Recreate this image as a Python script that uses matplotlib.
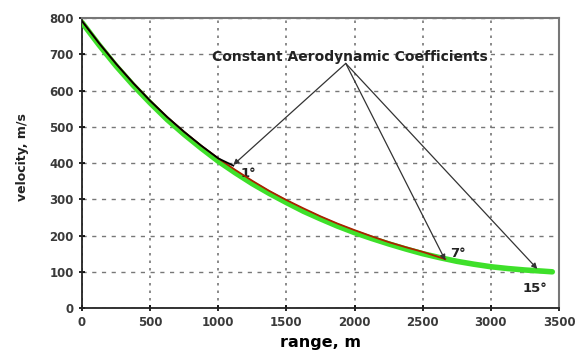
import numpy as np
import matplotlib.pyplot as plt

# velocity vs range (one series per angle of attack)
range_1 = [0, 125, 250, 375, 500, 625, 750, 875, 1000, 1110]
vel_1 = [792, 731, 674, 621, 572, 527, 486, 448, 413, 393]

range_7 = [0, 125, 250, 375, 500, 625, 750, 875, 1000, 1125, 1250, 1375, 1500,
           1625, 1750, 1875, 2000, 2125, 2250, 2375, 2500, 2665]
vel_7 = [792, 731, 674, 621, 572, 527, 486, 448, 413, 381, 351, 323, 298,
         275, 253, 233, 215, 198, 182, 168, 155, 135]

range_15 = [0, 125, 250, 375, 500, 625, 750, 875, 1000, 1125, 1250, 1375, 1500,
            1625, 1750, 1875, 2000, 2125, 2250, 2375, 2500, 2625, 2750, 2875,
            3000, 3125, 3250, 3375, 3450]
vel_15 = [788, 726, 668, 615, 566, 520, 479, 441, 405, 373, 343, 316, 291,
          267, 246, 226, 208, 192, 177, 163, 150, 139, 129, 121,
          114, 109, 105, 102, 100]

x_ticks = [0, 500, 1000, 1500, 2000, 2500, 3000, 3500]
y_ticks = [0, 100, 200, 300, 400, 500, 600, 700, 800]

plt.rcParams['font.family'] = ['DejaVu Sans']
plt.rcParams['font.weight'] = 'bold'

fig = plt.figure(figsize=(5.83, 3.62), dpi=100)
ax = fig.add_axes([0.1406, 0.149, 0.8184, 0.801])

ax.plot(range_15, vel_15, color="#3ee02a", lw=4, solid_capstyle="round", zorder=3)
ax.plot(range_7, vel_7, color="#aa2200", lw=1.3, zorder=4)
ax.plot(range_1, vel_1, color="black", lw=1.3, zorder=5)

ax.set_xlim(0, 3500)
ax.set_ylim(0, 800)
ax.set_xticks(x_ticks)
ax.set_yticks(y_ticks)
ax.grid(True, axis="y", color="#777777", ls=(0, (3, 4)), lw=1.0)
ax.grid(True, axis="x", color="#777777", ls=(0, (1.5, 3)), lw=1.2)
ax.tick_params(labelsize=8.5, labelcolor="#3a3a3a", direction="inout", length=5, width=1.2)

for side in ["top", "right"]:
    ax.spines[side].set_color("#777777")
    ax.spines[side].set_linewidth(1.5)
for side in ["left", "bottom"]:
    ax.spines[side].set_color("#222222")
    ax.spines[side].set_linewidth(1.3)

ax.set_xlabel("range, m", fontsize=11.5, fontweight="bold", labelpad=4)
ax.set_ylabel("velocity, m/s", fontsize=9, fontweight="bold", color="#222222")
ax.yaxis.set_label_coords(-0.112, 0.52)

ax.text(1966, 692, "Constant Aerodynamic Coefficients", fontsize=10, fontweight="bold",
        ha="center", va="center", color="#222222")

apex = (1935, 675)
tips = [(1110, 395), (2665, 132), (3340, 108)]
for tip in tips:
    ax.annotate("", xy=tip, xytext=apex,
                arrowprops=dict(arrowstyle="-|>", color="#333333", lw=0.9,
                                mutation_scale=8, shrinkA=0, shrinkB=0), zorder=6)

ax.text(1160, 362, "1°", fontsize=9.5, fontweight="bold", color="#222222")
ax.text(2700, 140, "7°", fontsize=9.5, fontweight="bold", color="#222222")
ax.text(3230, 45, "15°", fontsize=9.5, fontweight="bold", color="#222222")

fig.savefig("out.png", dpi=100)
